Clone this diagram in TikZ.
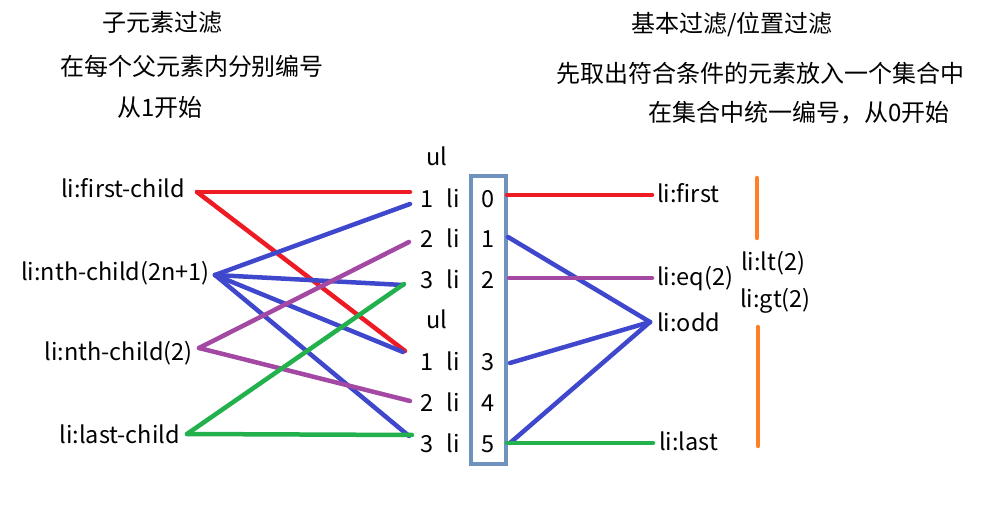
\documentclass[tikz,border=0pt]{standalone}
\usepackage{fontspec}
\setmainfont{Noto Sans CJK SC}
\definecolor{cred}{HTML}{ED1C24}
\definecolor{cblue}{HTML}{3F48CC}
\definecolor{cpurple}{HTML}{A349A4}
\definecolor{cgreen}{HTML}{22B14C}
\definecolor{corange}{HTML}{FF7F27}
\definecolor{cbox}{HTML}{7092BE}
\begin{document}
\begin{tikzpicture}[x=1pt,y=-1pt,
  txt/.style={inner sep=0pt,font=\fontsize{23.5}{28}\selectfont},
  ttl/.style={inner sep=0pt,font=\fontsize{24}{28}\selectfont},
  conn/.style={line width=4.5pt,line cap=round}]
\useasboundingbox (0,0) rectangle (986,518);
% titles
\node[ttl] (t1) at (162,22) {子元素过滤};
\node[ttl] (t2) at (192,66) {在每个父元素内分别编号};
\node[ttl] (t3) at (160,107) {从1开始};
\node[ttl] (t4) at (732,24) {基本过滤/位置过滤};
\node[ttl] (t5) at (760,73) {先取出符合条件的元素放入一个集合中};
\node[ttl] (t6) at (799,113) {在集合中统一编号，从0开始};
% left labels
\node[txt,anchor=base east] (fc) at (185,198) {li:first-child};
\node[txt,anchor=base east] (nc) at (210,281) {li:nth-child(2n+1)};
\node[txt,anchor=base east] (n2) at (193,361) {li:nth-child(2)};
\node[txt,anchor=base east] (lc) at (180,444) {li:last-child};
% middle
\node[txt,anchor=base] (ul1) at (437,166) {ul};
\node[txt,anchor=base] (ul2) at (437,329) {ul};
\foreach \n/\k/\y in {a/1/208,b/2/248,c/3/289,d/1/371,e/2/412,f/3/453}{
  \node[txt,anchor=base] (k\n) at (427,\y) {\k};
  \node[txt,anchor=base] (li\n) at (453,\y) {li};
}
\foreach \n/\k/\y in {a/0/208,b/1/248,c/2/289,d/3/371,e/4/412,f/5/453}{
  \node[txt,anchor=base] (g\n) at (488,\y) {\k};
}
\draw[cbox,line width=4.5pt] (471,176) rectangle (506,464);
% right labels
\node[txt,anchor=base west] (rf) at (657,203) {li:first};
\node[txt,anchor=base west] (re) at (657,286) {li:eq(2)};
\node[txt,anchor=base west] (ro) at (657,332) {li:odd};
\node[txt,anchor=base west] (rl) at (659,451) {li:last};
\node[txt,anchor=base west] (rlt) at (741,271) {li:lt(2)};
\node[txt,anchor=base west] (rgt) at (740,308) {li:gt(2)};
% endpoints
\coordinate (fcL) at (197,192);
\coordinate (ncL) at (215,275);
\coordinate (n2L) at (199,348);
\coordinate (lcL) at (187,434);
\coordinate (a1) at (410,192);
\coordinate (a2) at (410,204);
\coordinate (b1) at (409,242);
\coordinate (c1) at (403,285);
\coordinate (c2) at (404,284);
\coordinate (d1) at (405,351);
\coordinate (d2) at (403,352);
\coordinate (e1) at (410,401);
\coordinate (f1) at (409,436);
\coordinate (f2) at (412,435);
\coordinate (g0) at (507,195);
\coordinate (g1) at (508,237);
\coordinate (g2) at (509,278);
\coordinate (g3) at (510,363);
\coordinate (g5) at (510,443);
\coordinate (g5b) at (507,443);
\coordinate (rfL) at (652,195);
\coordinate (reL) at (652,278);
\coordinate (roL) at (650,322);
\coordinate (rlL) at (653,443);
\coordinate (o1) at (757,178);
\coordinate (o2) at (757,238);
\coordinate (o3) at (758,327);
\coordinate (o4) at (758,446);
% left connectors
\draw[conn,cred] (fcL) -- (a1);
\draw[conn,cred] (fcL) -- (d1);
\draw[conn,cblue] (ncL) -- (a2);
\draw[conn,cblue] (ncL) -- (c1);
\draw[conn,cblue] (ncL) -- (d2);
\draw[conn,cblue] (ncL) -- (f1);
\draw[conn,cpurple] (n2L) -- (b1);
\draw[conn,cpurple] (n2L) -- (e1);
\draw[conn,cgreen] (lcL) -- (c2);
\draw[conn,cgreen] (lcL) -- (f2);
% right connectors
\draw[conn,cred] (g0) -- (rfL);
\draw[conn,cblue] (g1) -- (roL);
\draw[conn,cpurple] (g2) -- (reL);
\draw[conn,cblue] (g3) -- (roL);
\draw[conn,cblue] (g5) -- (roL);
\draw[conn,cgreen] (g5b) -- (rlL);
\draw[conn,corange] (o1) -- (o2);
\draw[conn,corange] (o3) -- (o4);
\end{tikzpicture}
\end{document}
